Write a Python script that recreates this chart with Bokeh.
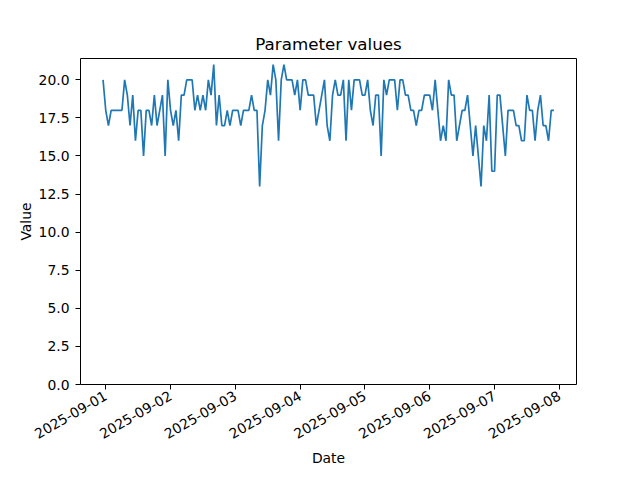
import math
import pandas as pd
from bokeh.plotting import figure
from bokeh.models import Range1d, DatetimeTickFormatter, DaysTicker, FixedTicker, NumeralTickFormatter
from bokeh.embed import file_html
from bokeh.resources import INLINE

start_time = "2025-08-31 23:00"
values = [
    20, 18, 17, 18, 18, 18, 18, 18, 20, 19, 17, 19, 16, 18, 18, 15, 18, 18, 17, 19,
    17, 18, 19, 15, 20, 18, 17, 18, 16, 19, 19, 20, 20, 20, 18, 19, 18, 19, 18, 20,
    19, 21, 17, 19, 17, 17, 18, 17, 18, 18, 18, 17, 18, 18, 18, 19, 18, 18, 13, 17,
    18, 20, 19, 21, 20, 16, 20, 21, 20, 20, 20, 19, 20, 18, 20, 20, 19, 19, 19, 17,
    18, 19, 20, 17, 16, 19, 20, 19, 19, 20, 16, 20, 18, 20, 20, 20, 19, 19, 20, 18,
    17, 19, 19, 15, 20, 19, 20, 20, 20, 18, 20, 20, 19, 19, 18, 18, 17, 18, 18, 19,
    19, 19, 18, 20, 18, 16, 17, 16, 20, 19, 19, 16, 17, 18, 18, 19, 17, 15, 17, 15,
    13, 17, 16, 19, 14, 14, 19, 19, 17, 15, 18, 18, 18, 17, 17, 16, 16, 19, 18, 18,
    16, 18, 19, 17, 17, 16, 18, 18,
]
y_ticks = [0, 2.5, 5, 7.5, 10, 12.5, 15, 17.5, 20]

dates = pd.date_range(start_time, periods=len(values), freq="h")

span = dates[-1] - dates[0]
pad = span * 0.05
x_range = Range1d(dates[0] - pad, dates[-1] + pad)
ymax = max(values)
ymin = min(values)
y_range = Range1d(0, ymax + 0.05 * (ymax - ymin))

p = figure(
    x_axis_type="datetime",
    x_range=x_range,
    y_range=y_range,
    frame_width=496,
    frame_height=326,
    min_border_left=80,
    min_border_right=48,
    min_border_top=58,
    min_border_bottom=80,
    output_backend="svg",
    toolbar_location=None,
    title="Parameter values",
)

p.line(dates, values, line_color="#1f77b4", line_width=1.7)

p.title.align = "center"
p.title.text_font = "DejaVu Sans"
p.title.text_font_size = "16.7px"
p.title.text_font_style = "normal"
p.title.text_color = "black"

p.grid.visible = False
p.outline_line_color = "black"
p.outline_line_width = 1
p.outline_line_alpha = 1

p.xaxis.ticker = DaysTicker(days=list(range(1, 32)))
p.xaxis.formatter = DatetimeTickFormatter(days="%Y-%m-%d", months="%Y-%m-%d", hours="%Y-%m-%d")
p.xaxis.major_label_orientation = math.pi / 6
p.xaxis.axis_label = "Date"
p.xaxis.axis_label_standoff = 3

p.yaxis.ticker = FixedTicker(ticks=y_ticks)
p.yaxis.formatter = NumeralTickFormatter(format="0.0")
p.yaxis.axis_label = "Value"
p.yaxis.major_label_standoff = 6
p.yaxis.axis_label_standoff = 2

for ax in (p.xaxis[0], p.yaxis[0]):
    ax.axis_line_color = None
    ax.major_tick_out = 5
    ax.major_tick_in = 0
    ax.minor_tick_out = 0
    ax.minor_tick_in = 0
    ax.major_tick_line_color = "black"
    ax.major_label_text_font = "DejaVu Sans"
    ax.major_label_text_font_size = "13.9px"
    ax.major_label_text_color = "black"
    ax.axis_label_text_font = "DejaVu Sans"
    ax.axis_label_text_font_size = "13.9px"
    ax.axis_label_text_font_style = "normal"
    ax.axis_label_text_color = "black"

p.background_fill_color = "white"
p.border_fill_color = "white"

open("out.html", "w").write(file_html(p, INLINE))
